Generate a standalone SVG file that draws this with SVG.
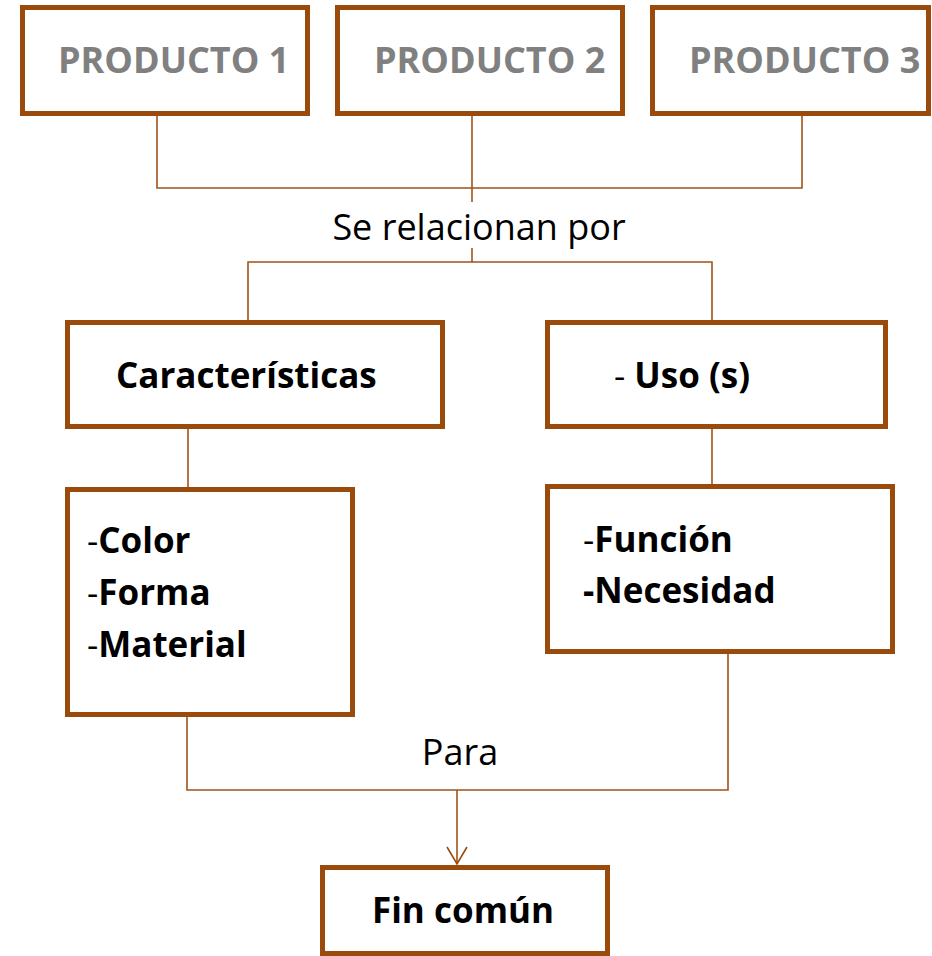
<svg xmlns="http://www.w3.org/2000/svg" width="932" height="956" viewBox="0 0 932 956">
<defs>
<style>
.box{fill:#fff;stroke:#9A4B0C;stroke-width:5}
.con{fill:none;stroke:#A0531A;stroke-width:1.6}
text{font-family:"Open Sans","Liberation Sans",sans-serif}
.prod{font-size:36px;font-weight:bold;fill:#808080}
.lbl{font-size:36px;fill:#000}
.b{font-size:35px;font-weight:bold;fill:#000}
.r{font-weight:normal}
</style>
<marker id="arr" markerWidth="24" markerHeight="24" refX="18" refY="11" markerUnits="userSpaceOnUse" orient="auto" viewBox="0 0 24 24">
<path d="M1 1 L18 11 L1 21" fill="none" stroke="#9A4B0C" stroke-width="1.6"/>
</marker>
</defs>
<rect width="932" height="956" fill="#fff"/>
<g id="connectors">
<path class="con" d="M157 116 V188 H802 V116"/>
<path class="con" d="M472 116 V202"/>
<path class="con" d="M472 248 V262"/>
<path class="con" d="M248 320 V262 H712 V320"/>
<path class="con" d="M188 428 V488"/>
<path class="con" d="M712 428 V484"/>
<path class="con" d="M187 717 V790 H728 V654"/>
<path class="con" d="M457 790 V864" marker-end="url(#arr)"/>
</g>
<g id="producto1">
<rect class="box" x="22.5" y="7.5" width="285" height="106"/>
<text class="prod" x="58" y="73">PRODUCTO 1</text>
</g>
<g id="producto2">
<rect class="box" x="337.5" y="7.5" width="285" height="106"/>
<text class="prod" x="374" y="73">PRODUCTO 2</text>
</g>
<g id="producto3">
<rect class="box" x="652.5" y="7.5" width="276" height="106"/>
<text class="prod" x="689" y="73">PRODUCTO 3</text>
</g>
<g id="label-relacionan">
<text class="lbl" x="479" y="240" text-anchor="middle">Se relacionan por</text>
</g>
<g id="caracteristicas">
<rect class="box" x="67.5" y="322.5" width="375" height="104"/>
<text class="b" x="116" y="388">Características</text>
</g>
<g id="uso">
<rect class="box" x="547.5" y="322.5" width="338" height="104"/>
<text class="b" x="614" y="388"><tspan class="r">-</tspan> Uso (s)</text>
</g>
<g id="color-forma-material">
<rect class="box" x="67.5" y="489.5" width="285" height="225"/>
<text class="b" x="87" y="553"><tspan class="r">-</tspan>Color</text>
<text class="b" x="87" y="605"><tspan class="r">-</tspan>Forma</text>
<text class="b" x="87" y="657"><tspan class="r">-</tspan>Material</text>
</g>
<g id="funcion-necesidad">
<rect class="box" x="547.5" y="486.5" width="345" height="165"/>
<text class="b" x="583" y="552"><tspan class="r">-</tspan>Función</text>
<text class="b" x="583" y="603">-Necesidad</text>
</g>
<g id="label-para">
<text class="lbl" x="460" y="765" text-anchor="middle">Para</text>
</g>
<g id="fin-comun">
<rect class="box" x="322.5" y="867.5" width="285" height="86"/>
<text class="b" x="463" y="923" text-anchor="middle">Fin común</text>
</g>
</svg>
